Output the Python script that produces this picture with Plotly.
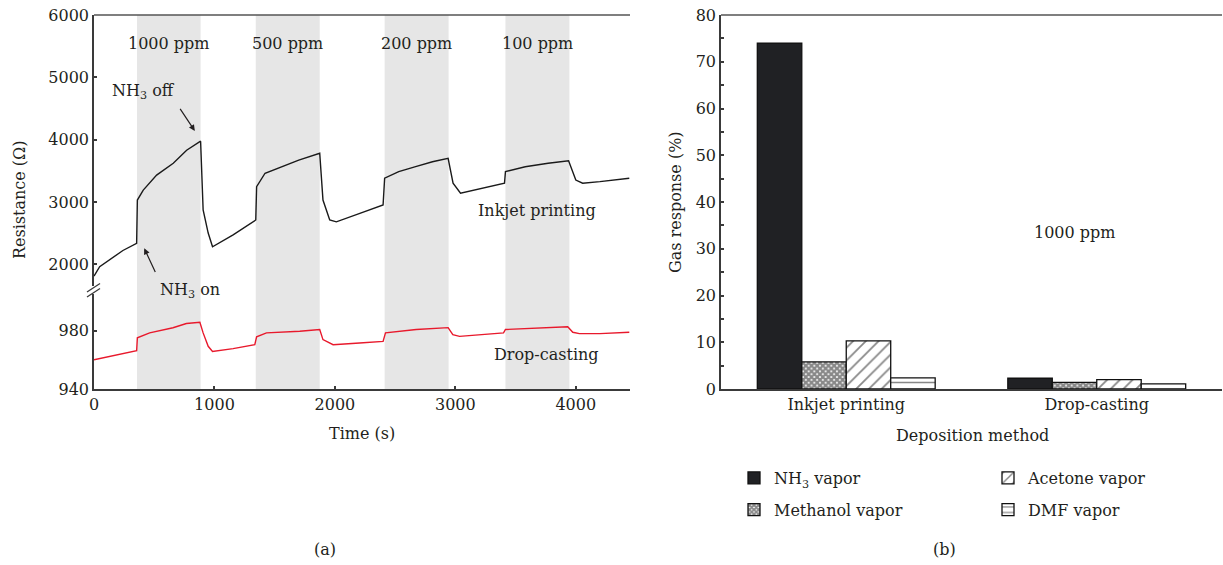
import plotly.graph_objects as go

# ---------------- data ----------------
# (a) resistance vs time
t_ink = [0, 47, 240, 354, 360, 409, 520, 658, 769, 879, 885, 906, 948, 984, 1155, 1343,
         1350, 1420, 1560, 1700, 1874, 1901, 1957, 2012, 2207, 2400, 2413, 2530, 2670, 2810,
         2940, 2981, 3043, 3240, 3408, 3416, 3580, 3770, 3940, 4000, 4057, 4200, 4444]
r_ink = [1810, 1960, 2220, 2335, 3030, 3190, 3430, 3620, 3830, 3970, 3975, 2870, 2500, 2280, 2470, 2710,
         3245, 3460, 3565, 3670, 3780, 3030, 2710, 2680, 2815, 2950, 3380, 3485, 3565, 3645,
         3700, 3300, 3140, 3220, 3300, 3485, 3565, 3620, 3660, 3350, 3300, 3325, 3380]

t_drop = [0, 354, 360, 462, 656, 767, 879, 906, 948, 984, 1155, 1335, 1350, 1432, 1708, 1874,
          1901, 1985, 2205, 2400, 2420, 2675, 2940, 2979, 3035, 3228, 3400, 3416, 3643, 3933,
          3975, 4030, 4200, 4444]
r_drop = [960, 966.2, 975, 978.4, 981.9, 984.8, 985.7, 978.4, 969.2, 965.7, 967.6, 970.3, 975.7, 978.4, 979.5, 980.7,
          973.8, 970.3, 971.5, 972.6, 978.4, 980.7, 982, 977.2, 976, 977.2, 978.4, 980.7, 981.6, 982.6,
          978.8, 977.9, 977.9, 978.8]

on_starts = [357, 1343, 2413, 3416]
on_ends = [885, 1874, 2944, 3947]
conc_labels = ["1000 ppm", "500 ppm", "200 ppm", "100 ppm"]

# (b) gas response
methods = ["Inkjet printing", "Drop-casting"]
gases = ["NH<sub>3</sub> vapor", "Methanol vapor", "Acetone vapor", "DMF vapor"]
response = {
    "NH<sub>3</sub> vapor": [74.0, 2.3],
    "Methanol vapor": [5.8, 1.4],
    "Acetone vapor": [10.3, 2.0],
    "DMF vapor": [2.4, 1.1],
}

# ---------------- style ----------------
FONT = "DejaVu Serif"
FS = 16
TXT = "#231f20"
AX = "#3a3a3a"
W, H = 1223, 565
ML, MR, MT, MB = 94, 1, 15, 176
PW, PH = W - ML - MR, H - MT - MB


def px(xp):
    return (xp - ML) / PW


def py(yp):
    return (H - MB - yp) / PH


fig = go.Figure()

fig.add_trace(go.Scatter(x=t_ink, y=r_ink, xaxis="x", yaxis="y2", mode="lines",
                         line=dict(color="#1a1a1a", width=1.4), showlegend=False,
                         name="Inkjet printing"))
fig.add_trace(go.Scatter(x=t_drop, y=r_drop, xaxis="x", yaxis="y", mode="lines",
                         line=dict(color="#e8192c", width=1.4), showlegend=False,
                         name="Drop-casting"))

styles = {
    "NH<sub>3</sub> vapor": dict(color="#202124", pattern=dict(shape="")),
    "Methanol vapor": dict(color="white", pattern=dict(shape="x", fgcolor="#111111", bgcolor="white",
                                                       size=4, solidity=0.8, fillmode="overlay")),
    "Acetone vapor": dict(color="white", pattern=dict(shape="/", fgcolor="#111111", bgcolor="white",
                                                      size=9, solidity=0.2, fillmode="overlay")),
    "DMF vapor": dict(color="white", pattern=dict(shape="-", fgcolor="#111111", bgcolor="white",
                                                  size=7, solidity=0.22, fillmode="overlay")),
}
legend_of = {"NH<sub>3</sub> vapor": "legend", "Methanol vapor": "legend",
             "Acetone vapor": "legend2", "DMF vapor": "legend2"}
for g in gases:
    st = styles[g]
    fig.add_trace(go.Bar(x=methods, y=response[g], name=g, xaxis="x2", yaxis="y3",
                         legend=legend_of[g], legendgroup=g,
                         marker=dict(color=st["color"], pattern=st["pattern"],
                                     line=dict(color="#111111", width=1.3))))

shapes = []
for s, e in zip(on_starts, on_ends):
    shapes.append(dict(type="rect", xref="x", yref="paper", x0=s, x1=e, y0=0, y1=1,
                       fillcolor="#e6e6e6", line=dict(width=0), layer="below"))
# top frame lines
shapes.append(dict(type="line", xref="paper", yref="paper", x0=0, x1=px(630), y0=1, y1=1,
                   line=dict(color="#555555", width=1.5)))
shapes.append(dict(type="line", xref="paper", yref="paper", x0=px(721), x1=1, y0=1, y1=1,
                   line=dict(color="#555555", width=1.5)))
# axis break marks
shapes.append(dict(type="line", xref="paper", yref="paper", x0=px(87), x1=px(100), y0=py(292), y1=py(283.5),
                   line=dict(color=AX, width=1.3)))
shapes.append(dict(type="line", xref="paper", yref="paper", x0=px(87), x1=px(100), y0=py(297), y1=py(288.5),
                   line=dict(color=AX, width=1.3)))


def ptext(xp, yp, text, **kw):
    d = dict(x=px(xp), y=py(yp), xref="paper", yref="paper", text=text, showarrow=False,
             xanchor="center", yanchor="middle", font=dict(size=FS))
    d.update(kw)
    return d


ann = []
for s, e, lab in zip(on_starts, on_ends, conc_labels):
    ann.append(dict(x=(s + e) / 2, y=5550, xref="x", yref="y2", text=lab, showarrow=False,
                    xanchor="center", yanchor="middle", font=dict(size=FS)))
ann += [
    # NH3 off: arrow head at the peak, text at the arrow tail
    dict(x=837, y=4140, xref="x", yref="y2", text="NH<sub>3</sub> off", showarrow=True,
         ax=-18, ay=-27, xanchor="right", yanchor="bottom", startstandoff=6,
         arrowhead=2, arrowsize=1, arrowwidth=1.2, arrowcolor=TXT, font=dict(size=FS)),
    # NH3 on
    dict(x=417, y=2255, xref="x", yref="y2", text="NH<sub>3</sub> on", showarrow=True,
         ax=14, ay=30, xanchor="left", yanchor="top", startstandoff=7,
         arrowhead=2, arrowsize=1, arrowwidth=1.2, arrowcolor=TXT, font=dict(size=FS)),
    dict(x=3678, y=2870, xref="x", yref="y2", text="Inkjet printing", showarrow=False,
         xanchor="center", yanchor="middle", font=dict(size=FS)),
    dict(x=3753, y=963.4, xref="x", yref="y", text="Drop-casting", showarrow=False,
         xanchor="center", yanchor="middle", font=dict(size=FS)),
    dict(x=(1074 - 721) / 501, y=33.4, xref="x2 domain", yref="y3", text="1000 ppm", showarrow=False,
         xanchor="center", yanchor="middle", font=dict(size=FS)),
    ptext(362, 433, "Time (s)"),
    ptext(972, 435, "Deposition method"),
    ptext(19, 200, "Resistance (Ω)", textangle=-90),
    ptext(675, 202, "Gas response (%)", textangle=-90),
    ptext(325, 549, "(a)"),
    ptext(944, 549, "(b)"),
]

axis_common = dict(showline=True, linecolor=AX, linewidth=1.5, showgrid=False, zeroline=False,
                   ticks="inside", ticklen=3, tickwidth=2, tickcolor=AX,
                   tickfont=dict(size=FS, color=TXT, family=FONT))

fig.update_layout(
    width=W, height=H,
    margin=dict(l=ML, r=MR, t=MT, b=MB),
    paper_bgcolor="white", plot_bgcolor="white",
    font=dict(family=FONT, color=TXT, size=FS),
    showlegend=True,
    barmode="group", bargap=0.29, bargroupgap=0,
    xaxis=dict(domain=[0, px(630)], range=[0, 4450], anchor="y", tickvals=[0, 1000, 2000, 3000, 4000],
               **axis_common),
    yaxis=dict(domain=[0, py(294)], range=[940, 1005], anchor="x", tickvals=[940, 980], **axis_common),
    yaxis2=dict(domain=[py(286), 1], range=[1650, 6000], anchor="x",
                tickvals=[2000, 3000, 4000, 5000, 6000], **axis_common),
    xaxis2=dict(domain=[px(721), 1], anchor="y3", type="category", showline=True, linecolor=AX,
                linewidth=1.5, showgrid=False, zeroline=False, ticks="",
                tickfont=dict(size=FS, color=TXT, family=FONT)),
    yaxis3=dict(domain=[0, 1], range=[0, 80], anchor="x2", dtick=10,
                minor=dict(dtick=5, ticks="inside", ticklen=3, tickwidth=2, tickcolor=AX),
                **axis_common),
    legend=dict(x=px(734), y=py(461), xanchor="left", yanchor="top", orientation="v",
                font=dict(size=FS), tracegroupgap=8, bgcolor="rgba(0,0,0,0)"),
    legend2=dict(x=px(988), y=py(461), xanchor="left", yanchor="top", orientation="v",
                 font=dict(size=FS), tracegroupgap=8, bgcolor="rgba(0,0,0,0)"),
    shapes=shapes,
    annotations=ann,
)

fig.write_html("out.html", config={"displayModeBar": False},
               post_script="document.body.style.margin='0';")
